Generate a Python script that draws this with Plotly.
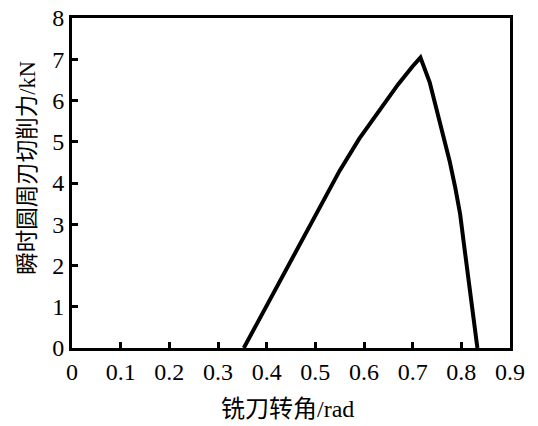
import plotly.graph_objects as go

# Milling cutter rotation angle (rad) and instantaneous peripheral-edge cutting force (kN)
angle = [0.353, 0.390, 0.430, 0.470, 0.510, 0.550, 0.590, 0.630, 0.670, 0.700, 0.716,
         0.735, 0.749, 0.763, 0.776, 0.7875, 0.7975, 0.806, 0.815, 0.8235, 0.8315, 0.833]
force = [0.0, 0.80, 1.68, 2.56, 3.44, 4.30, 5.07, 5.74, 6.39, 6.83, 7.04,
         6.44, 5.80, 5.16, 4.53, 3.89, 3.25, 2.46, 1.66, 0.87, 0.12, 0.0]

x_ticks = [0, 0.1, 0.2, 0.3, 0.4, 0.5, 0.6, 0.7, 0.8, 0.9]
x_labels = ["0", "0.1", "0.2", "0.3", "0.4", "0.5", "0.6", "0.7", "0.8", "0.9"]
y_ticks = [0, 1, 2, 3, 4, 5, 6, 7, 8]

x_title = "铣刀转角/rad"
y_title = "瞬时圆周刃切削力/kN"

serif = "Liberation Serif, Noto Sans CJK SC, serif"

fig = go.Figure()
fig.add_trace(go.Scatter(
    x=angle, y=force, mode="lines",
    line=dict(color="black", width=4),
    showlegend=False,
))

# page has an 8px body margin, so the figure is shrunk and shifted to compensate
fig.update_layout(
    width=530, height=418,
    margin=dict(l=64, r=28, t=10, b=78),
    paper_bgcolor="white", plot_bgcolor="white",
    font=dict(family=serif, color="black", size=24),
)

fig.update_xaxes(
    range=[0, 0.9], tickvals=x_ticks, ticktext=x_labels,
    showgrid=False, zeroline=False, automargin=False,
    showline=True, linecolor="black", linewidth=3, mirror=True,
    ticks="inside", ticklen=6, tickwidth=2.5, tickcolor="black",
    tickfont=dict(family=serif, size=24), ticklabeloverflow="allow",
)
fig.update_yaxes(
    range=[0, 8], tickvals=y_ticks,
    showgrid=False, zeroline=False, automargin=False,
    showline=True, linecolor="black", linewidth=3, mirror=True,
    ticks="inside", ticklen=6, tickwidth=2.5, tickcolor="black",
    tickfont=dict(family=serif, size=24), ticklabeloverflow="allow",
)

fig.add_annotation(
    text=x_title, xref="paper", yref="paper", x=0.493, y=-0.185,
    xanchor="center", yanchor="middle", showarrow=False,
    font=dict(family=serif, size=24, color="black"),
)
fig.add_annotation(
    text=y_title, xref="paper", yref="paper", x=-0.1005, y=0.546,
    xanchor="center", yanchor="middle", showarrow=False, textangle=-90,
    font=dict(family=serif, size=22.5, color="black"),
)

fig.write_html("out.html")
